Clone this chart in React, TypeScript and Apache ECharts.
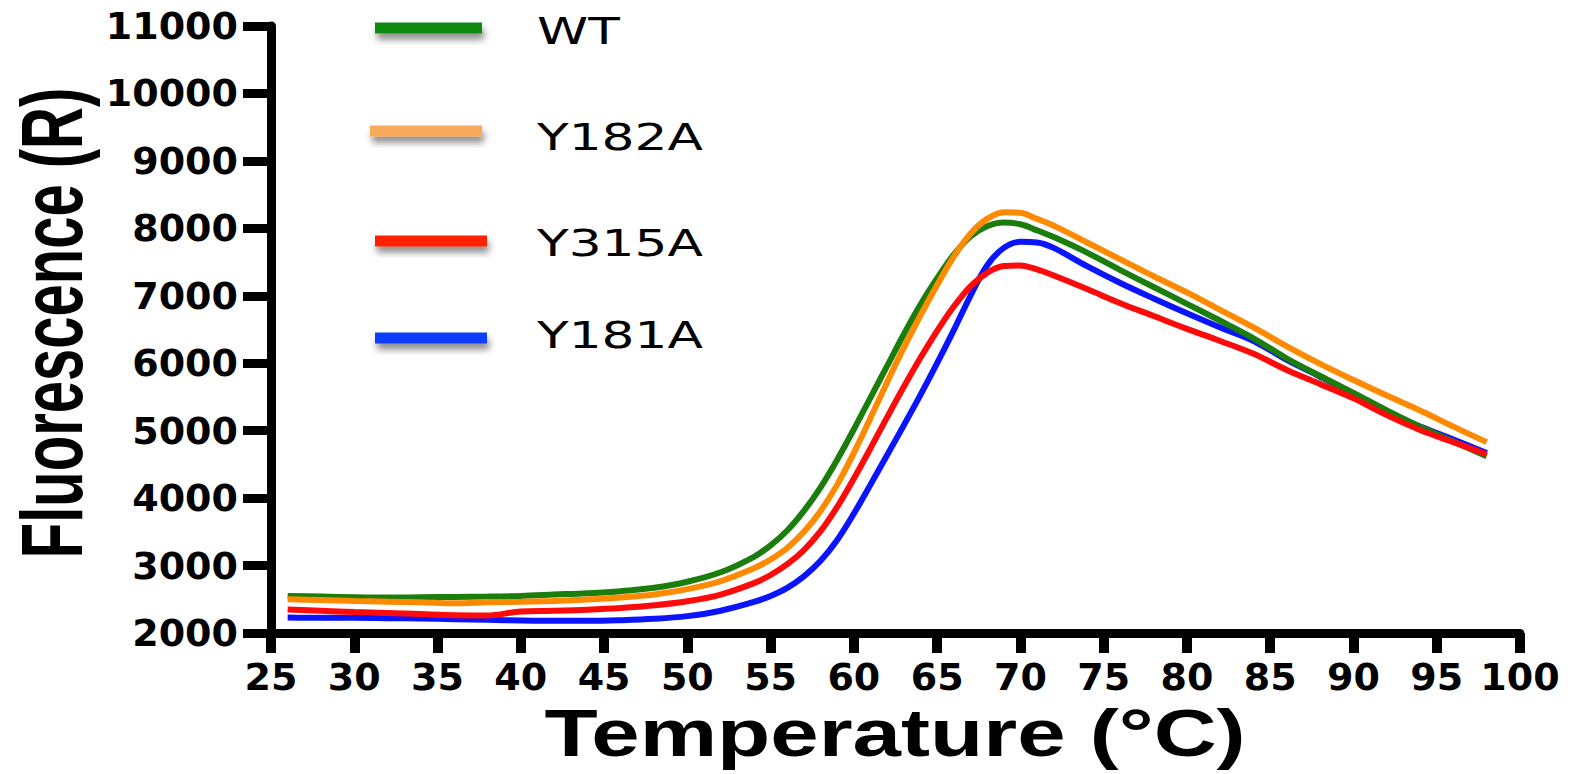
import React, { useEffect, useRef } from "react";
import * as echarts from "echarts";

const temps = [26, 28, 30, 32, 34, 36, 38, 40, 42, 44, 46, 48, 50, 52, 54, 55, 56, 57, 58, 59, 60, 61, 62, 63, 64, 65, 66, 67, 68, 69, 70, 71, 72, 74, 76, 78, 80, 82, 84, 86, 88, 90, 92, 94, 96, 98];

const wt = [2550, 2540, 2530, 2525, 2530, 2535, 2540, 2550, 2570, 2590, 2620, 2670, 2760, 2900, 3130, 3300, 3520, 3810, 4160, 4570, 5020, 5490, 5960, 6430, 6870, 7260, 7610, 7880, 8030, 8085, 8060, 7970, 7870, 7640, 7380, 7130, 6880, 6630, 6370, 6070, 5810, 5560, 5300, 5060, 4840, 4620];
const y182a = [2500, 2490, 2475, 2465, 2455, 2440, 2455, 2465, 2475, 2495, 2525, 2570, 2650, 2770, 2960, 3090, 3260, 3500, 3810, 4200, 4670, 5190, 5720, 6230, 6710, 7160, 7580, 7920, 8140, 8240, 8230, 8140, 8040, 7790, 7540, 7290, 7050, 6790, 6530, 6250, 5990, 5750, 5520, 5300, 5060, 4830];
const y315a = [2350, 2330, 2310, 2295, 2280, 2265, 2260, 2320, 2330, 2345, 2370, 2410, 2470, 2570, 2740, 2860, 3020, 3230, 3510, 3870, 4290, 4740, 5200, 5650, 6080, 6480, 6840, 7140, 7340, 7440, 7450, 7390, 7300, 7100, 6890, 6700, 6510, 6330, 6140, 5900, 5690, 5480, 5230, 5010, 4830, 4650];
const y181a = [2230, 2225, 2225, 2220, 2215, 2205, 2195, 2185, 2180, 2180, 2190, 2210, 2250, 2330, 2460, 2550, 2670, 2840, 3070, 3380, 3770, 4200, 4640, 5080, 5530, 6000, 6490, 7000, 7450, 7710, 7800, 7790, 7710, 7440, 7190, 6960, 6740, 6530, 6330, 6050, 5800, 5540, 5250, 5060, 4870, 4670];

const seriesNames = ["WT", "Y182A", "Y315A", "Y181A"];
const seriesValues = [wt, y182a, y315a, y181a];
const lineColors = ["#1b7d0c", "#ff8a00", "#ff0a0a", "#0a14ff"];
const legendColors = ["#118a11", "#f9a95a", "#ff2200", "#0a3cff"];
const seriesZ = [3, 4, 5, 2];

const xTitle = "Temperature (°C)";
const yTitle = "Fluorescence (R)";

const legendLineY = [28, 131, 241, 338];
const legendLineX = [[375, 482], [370, 482], [375, 487], [375, 487]];
const legendTextY = [31, 137, 243, 335];

export default function App() {
  const ref = useRef<HTMLDivElement>(null);
  useEffect(() => {
    if (!ref.current) return;
    const chart = echarts.init(ref.current, null, { renderer: "svg" });
    const legendGraphics: any[] = [];
    seriesNames.forEach((name, i) => {
      const [x1, x2] = legendLineX[i];
      const cy = legendLineY[i];
      legendGraphics.push({
        type: "rect",
        z: 11,
        shape: { x: x1, y: cy - 5.5, width: x2 - x1, height: 11 },
        style: {
          fill: legendColors[i],
          shadowColor: "rgba(0,0,0,0.45)",
          shadowBlur: 7,
          shadowOffsetY: 6,
          shadowOffsetX: 2,
        },
      });
      legendGraphics.push({
        type: "text",
        z: 11,
        x: 537,
        y: legendTextY[i],
        scaleX: 1.4,
        style: {
          text: name,
          font: "37px 'DejaVu Sans'",
          fill: "#000",
          textAlign: "left",
          textVerticalAlign: "middle",
        },
      });
    });
    const option: any = {
      animation: false,
      backgroundColor: "#fff",
      grid: { left: 271, right: 52, top: 26, bottom: 141, containLabel: false },
      xAxis: {
        type: "value",
        min: 25,
        max: 100,
        interval: 5,
        splitLine: { show: false },
        axisLine: { lineStyle: { color: "#000", width: 9 } },
        axisTick: { length: 20, lineStyle: { color: "#000", width: 10 } },
        axisLabel: {
          color: "#000",
          fontFamily: "DejaVu Sans",
          fontWeight: "bold",
          fontSize: 38,
          margin: 25,
          formatter: (v: number) => String(v),
        },
      },
      yAxis: {
        type: "value",
        min: 2000,
        max: 11000,
        interval: 1000,
        splitLine: { show: false },
        axisLine: { show: true, lineStyle: { color: "#000", width: 9 } },
        axisTick: { show: true, length: 28, lineStyle: { color: "#000", width: 9 } },
        axisLabel: {
          color: "#000",
          fontFamily: "DejaVu Sans",
          fontWeight: "bold",
          fontSize: 38,
          margin: 33,
          formatter: (v: number) => String(v),
        },
      },
      series: seriesNames.map((name, i) => ({
        name,
        type: "line",
        smooth: 0.35,
        showSymbol: false,
        z: seriesZ[i],
        data: temps.map((t, j) => [t, seriesValues[i][j]]),
        lineStyle: { color: lineColors[i], width: 6 },
        itemStyle: { color: lineColors[i] },
      })),
      graphic: [
        ...legendGraphics,
        {
          type: "text",
          x: 895,
          y: 733,
          scaleX: 1.32,
          style: {
            text: xTitle,
            font: "bold 66px 'Liberation Sans'",
            fill: "#000",
            textAlign: "center",
            textVerticalAlign: "middle",
          },
        },
        {
          type: "text",
          x: 52,
          y: 323,
          rotation: Math.PI / 2,
          scaleY: 1.5,
          style: {
            text: yTitle,
            font: "bold 58px 'Liberation Sans'",
            fill: "#000",
            textAlign: "center",
            textVerticalAlign: "middle",
          },
        },
      ],
    };
    chart.setOption(option);
    return () => chart.dispose();
  }, []);
  return (
    <div
      ref={ref}
      style={{ position: "absolute", left: 0, top: 0, width: 1572, height: 774 }}
    />
  );
}
